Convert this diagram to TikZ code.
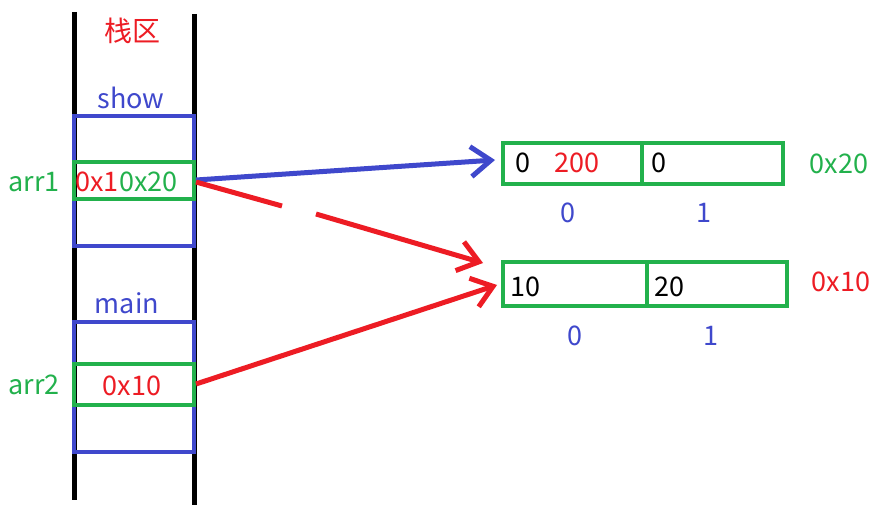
\documentclass[tikz,border=0pt]{standalone}
\usepackage{fontspec}
\setmainfont{Noto Sans CJK SC}
\usetikzlibrary{arrows.meta}
\definecolor{pblue}{RGB}{63,72,204}
\definecolor{pgreen}{RGB}{34,177,76}
\definecolor{pred}{RGB}{237,28,36}
\begin{document}
\begin{tikzpicture}[x=1pt,y=-1pt,
  txt/.style={font=\fontsize{27}{32}\selectfont, inner sep=0pt},
  frame/.style={draw=pblue, line width=4pt, inner sep=0pt, minimum width=120pt},
  cell/.style={draw=pgreen, line width=4pt, inner sep=0pt},
  rail/.style={line width=5pt, black},
  ptr/.style={line width=5pt, -{Straight Barb[length=20pt,width=30pt]}}]
\useasboundingbox (0,0) rectangle (880,521);
\fill[white] (0,0) rectangle (880,521);
% rails
\coordinate (lt) at (74,12); \coordinate (lb) at (74,500);
\coordinate (rt) at (194,14); \coordinate (rb) at (194,505);
\draw[rail] (lt) -- (lb);
\draw[rail] (rt) -- (rb);
% frames
\node[frame, minimum height=130pt] (show) at (134,181) {};
\node[frame, minimum height=130pt] (main) at (134,387) {};
\node[cell, minimum width=120pt, minimum height=37pt] (a1) at (134,180.5) {};
\node[cell, minimum width=120pt, minimum height=41pt] (a2) at (134,384.5) {};
% labels stack
\node[txt, text=pred, font=\fontsize{28}{32}\selectfont] (zq) at (132,31) {栈区};
\node[txt, text=pblue] (lshow) at (131,98) {show};
\node[txt, text=pblue] (lmain) at (127,303) {main};
\node[txt, text=pgreen] (larr1) at (34,182) {arr1};
\node[txt, text=pgreen] (larr2) at (34,385) {arr2};
\node[txt, text=pred, anchor=west] (v1a) at (75,182) {0x1};
\node[txt, text=pgreen, anchor=west] (v1b) at (119,182) {0x20};
\node[txt, text=pred] (v2) at (132,386) {0x10};
% heap arrays
\node[cell, minimum width=139pt, minimum height=41pt] (t0) at (572.5,163.5) {};
\node[cell, minimum width=141pt, minimum height=41pt] (t1) at (712.5,163.5) {};
\node[cell, minimum width=144pt, minimum height=44pt] (b0) at (575,284) {};
\node[cell, minimum width=140pt, minimum height=44pt] (b1) at (717,284) {};
\node[txt, anchor=west] (t0a) at (515,163) {0};
\node[txt, text=pred] (t0b) at (577,163) {200};
\node[txt, anchor=west] (t1a) at (651,163) {0};
\node[txt, anchor=west] (b0a) at (510,287) {10};
\node[txt, anchor=west] (b1a) at (654,287) {20};
\node[txt, text=pgreen] (ad1) at (839,164) {0x20};
\node[txt, text=pred] (ad2) at (841,282) {0x10};
\node[txt, text=pblue] (i00) at (568,213) {0};
\node[txt, text=pblue] (i01) at (704,213) {1};
\node[txt, text=pblue] (i10) at (575,336) {0};
\node[txt, text=pblue] (i11) at (711,336) {1};
% arrows
\coordinate (s1) at (196,180);
\coordinate (e1) at (495,160);
\coordinate (s2) at (196,182);
\coordinate (g1) at (282,206);
\coordinate (g2) at (316,214);
\coordinate (e2) at (483,263);
\coordinate (s3) at (196,384);
\coordinate (e3) at (497,285);
\draw[ptr, pblue] (s1) -- (e1);
\draw[line width=5pt, pred] (s2) -- (g1);
\draw[ptr, pred] (g2) -- (e2);
\draw[ptr, pred] (s3) -- (e3);
\end{tikzpicture}
\end{document}
